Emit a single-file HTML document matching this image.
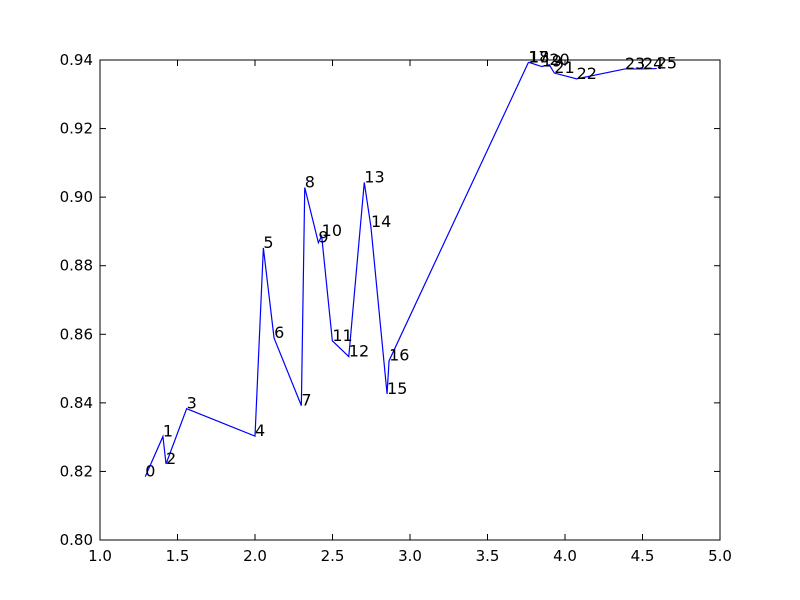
<!DOCTYPE html>
<html><head><meta charset="utf-8"><style>
body{margin:0;background:#fff}
svg{display:block;font-family:"DejaVu Sans","Liberation Sans",sans-serif}
</style></head><body>
<svg id="chart" width="800" height="600"></svg>
<script>
const xs=[1.292,1.406,1.426,1.559,2.0,2.054,2.123,2.299,2.321,2.409,2.430,2.499,2.605,2.705,2.748,2.852,2.865,3.763,3.768,3.850,3.899,3.931,4.075,4.387,4.503,4.592];
const ys=[0.8185,0.8302,0.8222,0.8383,0.8303,0.8852,0.8589,0.8392,0.9028,0.8867,0.8887,0.8581,0.8535,0.9043,0.8913,0.8426,0.8523,0.9392,0.9393,0.9381,0.9386,0.9362,0.9345,0.9374,0.9374,0.9375];
const labels=xs.map((_,i)=>String(i));
const xTicks=[1.0,1.5,2.0,2.5,3.0,3.5,4.0,4.5,5.0];
const yTicks=[0.80,0.82,0.84,0.86,0.88,0.90,0.92,0.94];
const L=100,R=720,T=60,B=540,x0=1,x1=5,y0=0.80,y1=0.94;
const sx=v=>L+(v-x0)/(x1-x0)*(R-L);
const sy=v=>B-(v-y0)/(y1-y0)*(B-T);
const svg=document.getElementById('chart');
const NS='http://www.w3.org/2000/svg';
function mk(t,a){const e=document.createElementNS(NS,t);for(const k in a)e.setAttribute(k,a[k]);svg.appendChild(e);return e;}
const line=mk('polyline',{points:xs.map((x,i)=>sx(x)+','+sy(ys[i])).join(' '),fill:'none',stroke:'#0000ff','stroke-width':1.2});


xs.forEach((x,i)=>{const t=mk('text',{x:sx(x),y:sy(ys[i]),'font-size':16,fill:'#000'});t.textContent=labels[i];

});
const frame=mk('rect',{x:L,y:T,width:R-L,height:B-T,fill:'none',stroke:'#000','stroke-width':1});


xTicks.forEach(v=>{const p=sx(v);
mk('line',{x1:p,x2:p,y1:B,y2:B-6,stroke:'#000'});mk('line',{x1:p,x2:p,y1:T,y2:T+6,stroke:'#000'});
const t=mk('text',{x:p,y:B+21,'text-anchor':'middle','font-size':15});t.textContent=v.toFixed(1);

});
yTicks.forEach(v=>{const p=sy(v);
mk('line',{x1:L,x2:L+6,y1:p,y2:p,stroke:'#000'});mk('line',{x1:R,x2:R-6,y1:p,y2:p,stroke:'#000'});
const t=mk('text',{x:L-7,y:p+5,'text-anchor':'end','font-size':15});t.textContent=v.toFixed(2);

});
</script>
</body></html>
